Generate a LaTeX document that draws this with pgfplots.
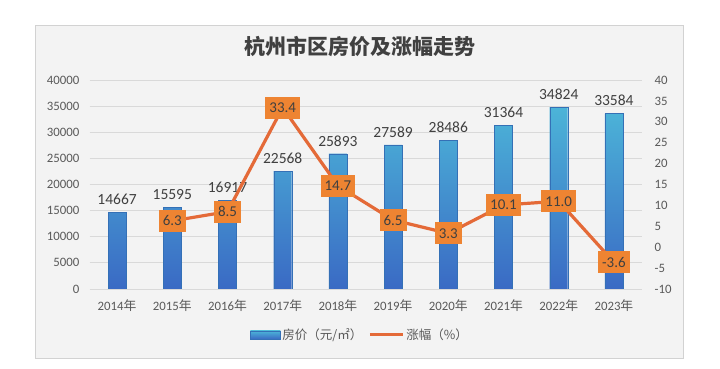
\documentclass[border=0pt]{standalone}
\usepackage{fontspec}
\setmainfont{Carlito}
\newfontfamily\cjk{Noto Sans CJK SC}
\usepackage{pgfplots}
\pgfplotsset{compat=1.18}
\definecolor{barTop}{RGB}{76,180,216}
\definecolor{barBot}{RGB}{58,106,196}
\definecolor{barEdge}{RGB}{52,112,182}
\definecolor{lineC}{RGB}{228,106,56}
\definecolor{boxC}{RGB}{238,132,50}
\definecolor{txt}{RGB}{64,64,64}
\definecolor{tickc}{RGB}{89,89,89}
\definecolor{gridc}{RGB}{217,217,217}
\definecolor{panel}{RGB}{243,243,243}
\definecolor{panelEdge}{RGB}{210,210,210}
\begin{document}
\begin{tikzpicture}[x=1pt,y=1pt]
\fill[white] (0,0) rectangle (720,369);
\useasboundingbox (0,0) rectangle (720,369);
\filldraw[fill=panel, draw=panelEdge, line width=0.8pt] (35,11) rectangle (683,344);
\node[font=\cjk\bfseries\fontsize{21}{21}\selectfont, text=txt] at (360,322) {杭州市区房价及涨幅走势};

\begin{axis}[
  at={(89.5pt,80pt)}, anchor=south west,
  width=552pt, height=209pt, scale only axis,
  xmin=-0.5, xmax=9.5, ymin=0, ymax=40000,
  xtick={0,...,9},
  xticklabels={2014{\cjk 年},2015{\cjk 年},2016{\cjk 年},2017{\cjk 年},2018{\cjk 年},2019{\cjk 年},2020{\cjk 年},2021{\cjk 年},2022{\cjk 年},2023{\cjk 年}},
  ytick={0,5000,...,40000},
  ymajorgrids, major grid style={gridc, line width=0.8pt},
  axis line style={draw=none}, major tick length=0pt,
  /pgf/number format/.cd, 1000 sep={}, assume math mode=true, /pgfplots/.cd,
  scaled y ticks=false,
  ticklabel style={font=\fontsize{12.8}{12.8}\selectfont, text=tickc},
  yticklabel style={anchor=east, inner sep=0pt, xshift=-10pt},
  xticklabel style={anchor=north, inner sep=0pt, yshift=-10pt},
  legend style={at={(0.49,-0.22)}, anchor=center, draw=none, fill=none,
    legend columns=2, font=\cjk\fontsize{12.5}{12.5}\selectfont, text=tickc,
    /tikz/every even column/.append style={column sep=4pt}},
]
\addplot[ybar, forget plot, bar width=18pt, draw=barEdge, line width=0.4pt,
  top color=barTop, bottom color=barBot,
  nodes near coords,
  nodes near coords style={font=\fontsize{15.5}{15.5}\selectfont, text=txt, yshift=4pt}]
  coordinates {(0,14667)(1,15595)(2,16917)(3,22568)(4,25893)(5,27589)(6,28486)(7,31364)(8,34824)(9,33584)};
\addlegendimage{legend image code/.code={\shade[top color=barTop,bottom color=barBot,draw=barEdge,line width=0.4pt] (0pt,-4pt) rectangle (30pt,4pt);}}
\addlegendentry{房价（元/㎡）}
\addlegendimage{legend image code/.code={\draw[lineC, line width=3pt] (0pt,0pt) -- (33pt,0pt);}}
\addlegendentry{涨幅（\%）}
\end{axis}

\begin{axis}[
  at={(89.5pt,80pt)}, anchor=south west,
  width=552pt, height=209pt, scale only axis,
  xmin=-0.5, xmax=9.5, ymin=-10, ymax=40,
  axis y line*=right, axis x line=none,
  ytick={-10,-5,...,40},
  axis line style={draw=none}, major tick length=0pt,
  /pgf/number format/.cd, assume math mode=true, /pgfplots/.cd,
  ticklabel style={font=\fontsize{12.8}{12.8}\selectfont, text=tickc},
  yticklabel style={anchor=west, inner sep=0pt, xshift=13pt},
]
\addplot[lineC, line width=3.2pt, mark=none,
  point meta=y,
  nodes near coords={\pgfmathprintnumber[fixed,fixed zerofill,precision=1,assume math mode=true]{\pgfplotspointmeta}},
  nodes near coords align=center,
  nodes near coords style={anchor=center, fill=boxC, text=txt, font=\fontsize{15}{15}\selectfont,
    inner xsep=4pt, minimum height=22pt}]
  coordinates {(1,6.3)(2,8.5)(3,33.4)(4,14.7)(5,6.5)(6,3.3)(7,10.1)(8,11.0)(9,-3.6)};
\end{axis}
\end{tikzpicture}
\end{document}
